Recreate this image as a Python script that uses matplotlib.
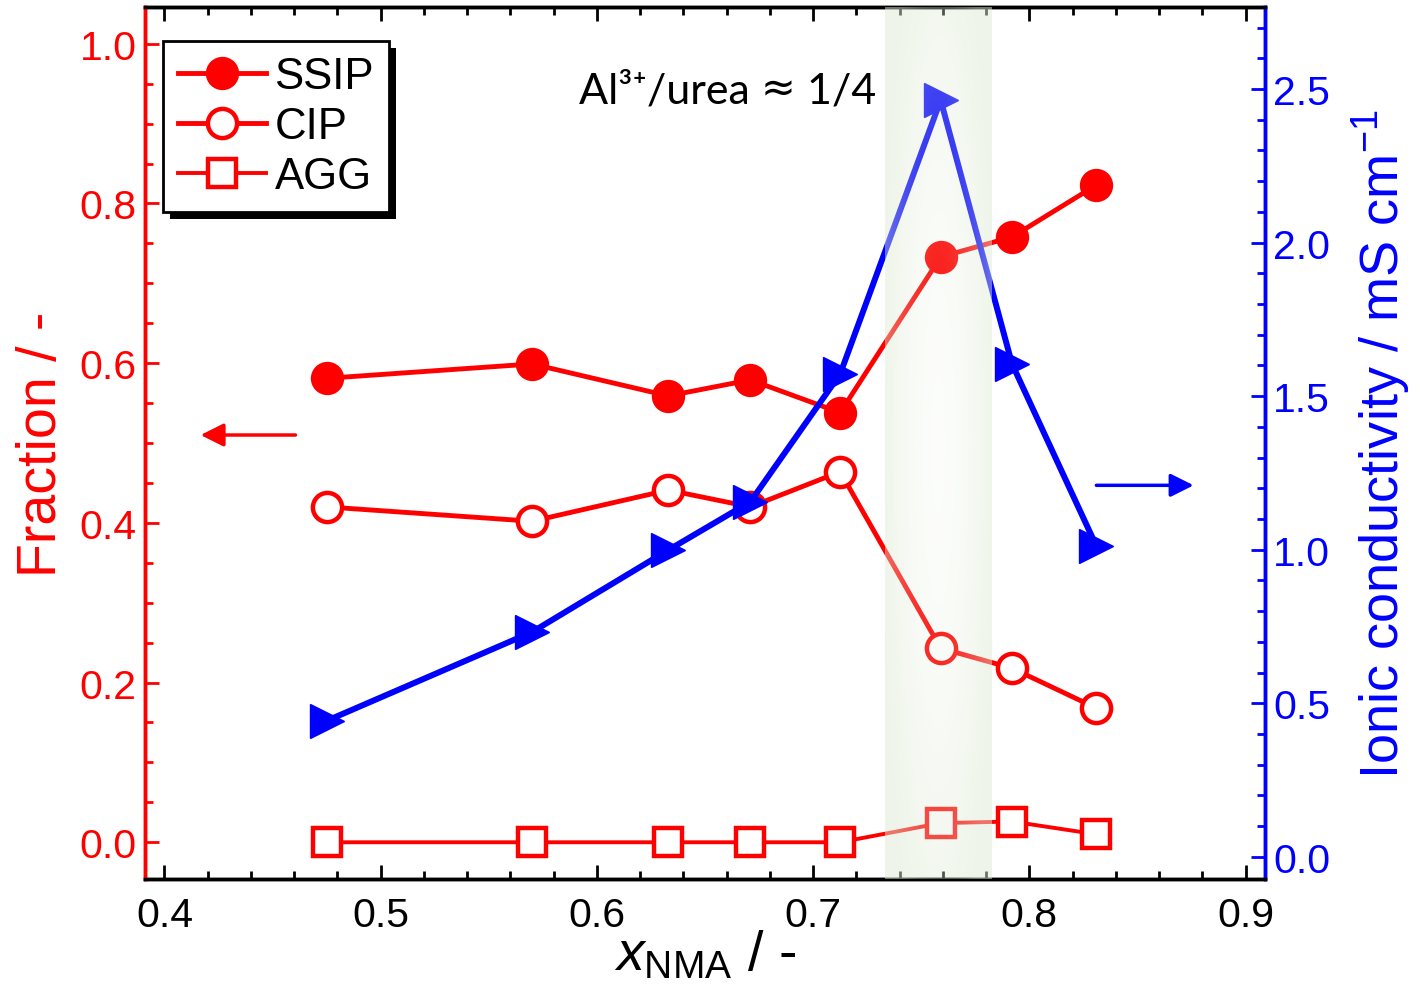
import matplotlib
matplotlib.use("Agg")
import matplotlib.pyplot as plt
import numpy as np
from matplotlib.patches import Rectangle
from matplotlib.transforms import IdentityTransform
from matplotlib.ticker import MultipleLocator

plt.rcParams['font.family'] = ['Liberation Sans', 'DejaVu Sans']
plt.rcParams['mathtext.fontset'] = 'custom'
plt.rcParams['mathtext.rm'] = 'Liberation Sans'
plt.rcParams['mathtext.it'] = 'Liberation Sans:italic'
plt.rcParams['mathtext.bf'] = 'Liberation Sans:bold'

# data
x_nma = [0.475, 0.570, 0.633, 0.671, 0.7125, 0.759, 0.792, 0.831]
ssip = [0.581, 0.599, 0.559, 0.579, 0.538, 0.733, 0.758, 0.823]
cip = [0.420, 0.402, 0.441, 0.420, 0.464, 0.243, 0.218, 0.168]
agg = [0.0, 0.0, 0.0, 0.0, 0.0, 0.024, 0.026, 0.010]
conductivity = [0.443, 0.732, 0.999, 1.156, 1.572, 2.464, 1.605, 1.012]
band = (0.7333, 0.7824)

RED = '#ff0000'
BLUE = '#0000ff'
TICK_FS = 29.5
LABEL_FS = 40

fig = plt.figure(figsize=(14.21, 9.87), dpi=100)
ax = fig.add_axes([145 / 1421, 1 - 880 / 987, 1120 / 1421, 872 / 987])
ax2 = ax.twinx()

# fractions (left axis)
ax.plot(x_nma, ssip, '-o', color=RED, lw=3.5, ms=21, mfc=RED, mec=RED, mew=3, label='SSIP', zorder=3)
ax.plot(x_nma, cip, '-o', color=RED, lw=3.5, ms=21, mfc='white', mec=RED, mew=3.2, label='CIP', zorder=3)
ax.plot(x_nma, agg, '-s', color=RED, lw=2.8, ms=20, mfc='white', mec=RED, mew=3.2, label='AGG', zorder=3)

# conductivity (right axis)
ax2.plot(x_nma, conductivity, '->', color=BLUE, lw=4.3, ms=24, mfc=BLUE, mec=BLUE, zorder=3)

ax.set_xlim(0.391, 0.909)
ax.set_ylim(-0.046, 1.046)

# shaded region drawn over the data with a soft radial gradient
ny, nx = 200, 60
yy, xx = np.mgrid[0:1:ny * 1j, 0:1:nx * 1j]
r = np.sqrt(((xx - 0.5) / 0.55) ** 2 + ((yy - 0.5) / 0.65) ** 2)
alpha = 0.08 + 0.42 * np.clip(r, 0, 1) ** 1.5
img = np.zeros((ny, nx, 4))
img[..., 0] = 0.87
img[..., 1] = 0.92
img[..., 2] = 0.83
img[..., 3] = alpha
ax2.imshow(img, extent=[band[0], band[1], -0.072, 2.767], aspect='auto', zorder=5, interpolation='bilinear')
ax2.set_xlim(0.391, 0.909)
ax2.set_ylim(-0.072, 2.767)

# ticks
ax.xaxis.set_major_locator(MultipleLocator(0.1))
ax.xaxis.set_minor_locator(MultipleLocator(0.02))
ax.yaxis.set_major_locator(MultipleLocator(0.2))
ax.yaxis.set_minor_locator(MultipleLocator(0.05))
ax2.yaxis.set_major_locator(MultipleLocator(0.5))
ax2.yaxis.set_minor_locator(MultipleLocator(0.1))

ax.tick_params(axis='x', which='both', direction='in', top=True, width=2, labelsize=TICK_FS, pad=12)
ax.tick_params(axis='x', which='major', length=10)
ax.tick_params(axis='x', which='minor', length=6)
ax.tick_params(axis='y', which='both', direction='in', color=RED, labelcolor=RED, width=2, labelsize=TICK_FS, pad=6)
ax.tick_params(axis='y', which='major', length=10)
ax.tick_params(axis='y', which='minor', length=6)
ax2.tick_params(axis='y', which='both', direction='in', color=BLUE, labelcolor=BLUE, width=2, labelsize=TICK_FS, pad=6)
ax2.tick_params(axis='y', which='major', length=10)
ax2.tick_params(axis='y', which='minor', length=6)

ax.xaxis.set_major_formatter(plt.FuncFormatter(lambda v, p: f'{v:.1f}'))
ax.yaxis.set_major_formatter(plt.FuncFormatter(lambda v, p: f'{v:.1f}'))
ax2.yaxis.set_major_formatter(plt.FuncFormatter(lambda v, p: f'{v:.1f}'))

for a in (ax, ax2):
    for s in a.spines.values():
        s.set_linewidth(2.5)
    a.spines['left'].set_color(RED)
    a.spines['right'].set_color(BLUE)

ax.set_xlabel(r'$x_{\mathrm{NMA}}$ / -', fontsize=LABEL_FS, labelpad=-4)
ax.set_ylabel('Fraction / -', fontsize=LABEL_FS, color=RED, labelpad=8)
ax2.set_ylabel(r'Ionic conductivity / mS cm$^{-1}$', fontsize=39, color=BLUE, labelpad=14)

# direction arrows
ax.annotate('', xy=(0.4167, 0.51), xytext=(0.4606, 0.51),
            arrowprops=dict(arrowstyle='-|>', color=RED, lw=2.5, mutation_scale=35, shrinkA=0, shrinkB=0))
ax.annotate('', xy=(0.876, 0.447), xytext=(0.831, 0.447),
            arrowprops=dict(arrowstyle='-|>', color=BLUE, lw=2.5, mutation_scale=35, shrinkA=0, shrinkB=0))

# composition note, built from pieces so the approx sign can use a fuller glyph
t1 = ax.text(0.5917, 0.941, 'Al³⁺/urea ', fontsize=31, family=['Lato', 'DejaVu Sans'],
             ha='left', va='center', color='black')
t2 = ax.annotate('≈', xy=(1, 0), xycoords=t1, xytext=(0, 0), textcoords='offset points',
                 fontsize=30, family='DejaVu Sans', ha='left', va='bottom')
t3 = ax.annotate(' 1/4', xy=(1, 0), xycoords=t2, xytext=(0, 0), textcoords='offset points',
                 fontsize=31, family=['Lato', 'DejaVu Sans'], ha='left', va='bottom')

leg = ax.legend(loc='upper left', bbox_to_anchor=(0.016, 0.961), borderaxespad=0,
                fontsize=31.5, frameon=True, fancybox=False, edgecolor='black',
                handlelength=2.0, handletextpad=0.2, labelspacing=0.2, borderpad=0.35,
                framealpha=1)
leg.get_frame().set_linewidth(2)
leg.set_zorder(6)

fig.canvas.draw()
bb = leg.get_window_extent()
shadow = Rectangle((bb.x0 + 7, bb.y0 - 7), bb.width, bb.height, transform=IdentityTransform(),
                   facecolor='black', edgecolor='none', zorder=5.5, clip_on=False)
ax.add_patch(shadow)

fig.savefig('out.png', dpi=100)
